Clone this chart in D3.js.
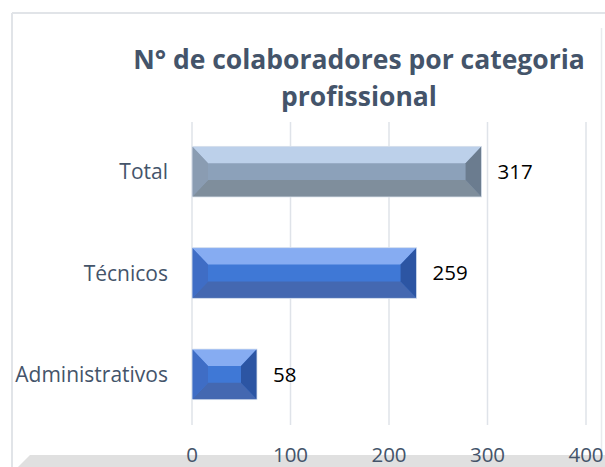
<!DOCTYPE html>
<html><head><meta charset="utf-8">
<script src="https://cdn.jsdelivr.net/npm/d3@7"></script>
<style>body{margin:0;background:#fff}svg{display:block}</style>
</head><body>
<script>
const categories = ["Total", "Técnicos", "Administrativos"];
const barValues = [294, 228, 66];          // bar lengths as drawn on the axis
const valueLabels = ["317", "259", "58"];  // data labels shown next to the bars
const tickValues = [0, 100, 200, 300, 400];
const titleLines = ["N° de colaboradores por categoria", "profissional"];

const W = 605, H = 467;
const svg = d3.select("body").append("svg").attr("width", W).attr("height", H);
const FONT = "'Open Sans', sans-serif";
const TXT = "#44546A";

const palettes = {
  "Total": {top:"#bcd0ea", mid:"#8ca1ba", bot:"#7f8e9c", left:"#8a9cb2", right:"#6b7c8f"},
  "default": {top:"#86acf2", mid:"#3f78d6", bot:"#4468b1", left:"#3f6dc5", right:"#2c55a3"}
};

// frame
svg.append("line").attr("x1",12).attr("x2",W).attr("y1",13).attr("y2",13).attr("stroke","#e1e4e8").attr("stroke-width",2);
svg.append("line").attr("x1",12).attr("x2",12).attr("y1",13).attr("y2",H).attr("stroke","#e1e4e8").attr("stroke-width",2);
svg.append("line").attr("x1",601.5).attr("x2",601.5).attr("y1",28).attr("y2",456).attr("stroke","#e8eaed").attr("stroke-width",1.5);

// floor
svg.append("polygon").attr("points",[[30,455],[W,455],[W,H],[18,H]].map(p=>p.join(",")).join(" ")).attr("fill","#e0e0e0");

const x = d3.scaleLinear().domain([0,400]).range([192,586]);
const y = d3.scaleBand().domain(categories).range([121,425]).paddingInner(0.5).paddingOuter(0.25);

// gridlines
svg.append("g").selectAll("line").data(tickValues).join("line")
  .attr("x1",d=>x(d)).attr("x2",d=>x(d)).attr("y1",122).attr("y2",425)
  .attr("stroke","#dfe3e9").attr("stroke-width",1.5);

// title
const t = svg.append("text").attr("text-anchor","middle").attr("fill",TXT)
  .attr("font-family",FONT).attr("font-weight","bold").attr("font-size",26.5);
titleLines.forEach((l,i)=>t.append("tspan").attr("x",359).attr("y",69+i*37).text(l));

// bars with bevel
const bars = svg.append("g");
categories.forEach((c,i)=>{
  const pal = palettes[c] || palettes["default"];
  const x0 = x(0), x1 = x(barValues[i]);
  const y0 = y(c), y1 = y0 + y.bandwidth();
  const bx = Math.min(16, (x1-x0)/3), by = y.bandwidth()/3;
  const g = bars.append("g");
  const poly = (pts, fill) => g.append("polygon").attr("points", pts.map(p=>p.join(",")).join(" ")).attr("fill", fill);
  poly([[x0,y0],[x1,y0],[x1,y1],[x0,y1]], pal.mid);
  poly([[x0,y0],[x1,y0],[x1-bx,y0+by],[x0+bx,y0+by]], pal.top);
  poly([[x0,y1],[x1,y1],[x1-bx,y1-by],[x0+bx,y1-by]], pal.bot);
  poly([[x0,y0],[x0+bx,y0+by],[x0+bx,y1-by],[x0,y1]], pal.left);
  poly([[x1,y0],[x1-bx,y0+by],[x1-bx,y1-by],[x1,y1]], pal.right);
  g.append("rect").attr("x",x0).attr("y",y0).attr("width",x1-x0).attr("height",y1-y0)
    .attr("fill","none").attr("stroke","#dfe6f0").attr("stroke-width",0.8);
  svg.append("text").attr("x",x1+16).attr("y",y0+y.bandwidth()/2).attr("dy","0.36em")
    .attr("font-family",FONT).attr("font-size",20.5).attr("fill","#000").text(valueLabels[i]);
});

// category axis labels
svg.append("g").selectAll("text").data(categories).join("text")
  .attr("x",168).attr("y",d=>y(d)+y.bandwidth()/2).attr("dy","0.36em")
  .attr("text-anchor","end").attr("font-family",FONT).attr("font-size",21).attr("fill",TXT)
  .text(d=>d);

// value axis tick labels
svg.append("g").selectAll("text").data(tickValues).join("text")
  .attr("x",d=>x(d)).attr("y",462).attr("text-anchor","middle")
  .attr("font-family",FONT).attr("font-size",20.5).attr("fill",TXT).text(d=>d);
</script>
</body></html>
